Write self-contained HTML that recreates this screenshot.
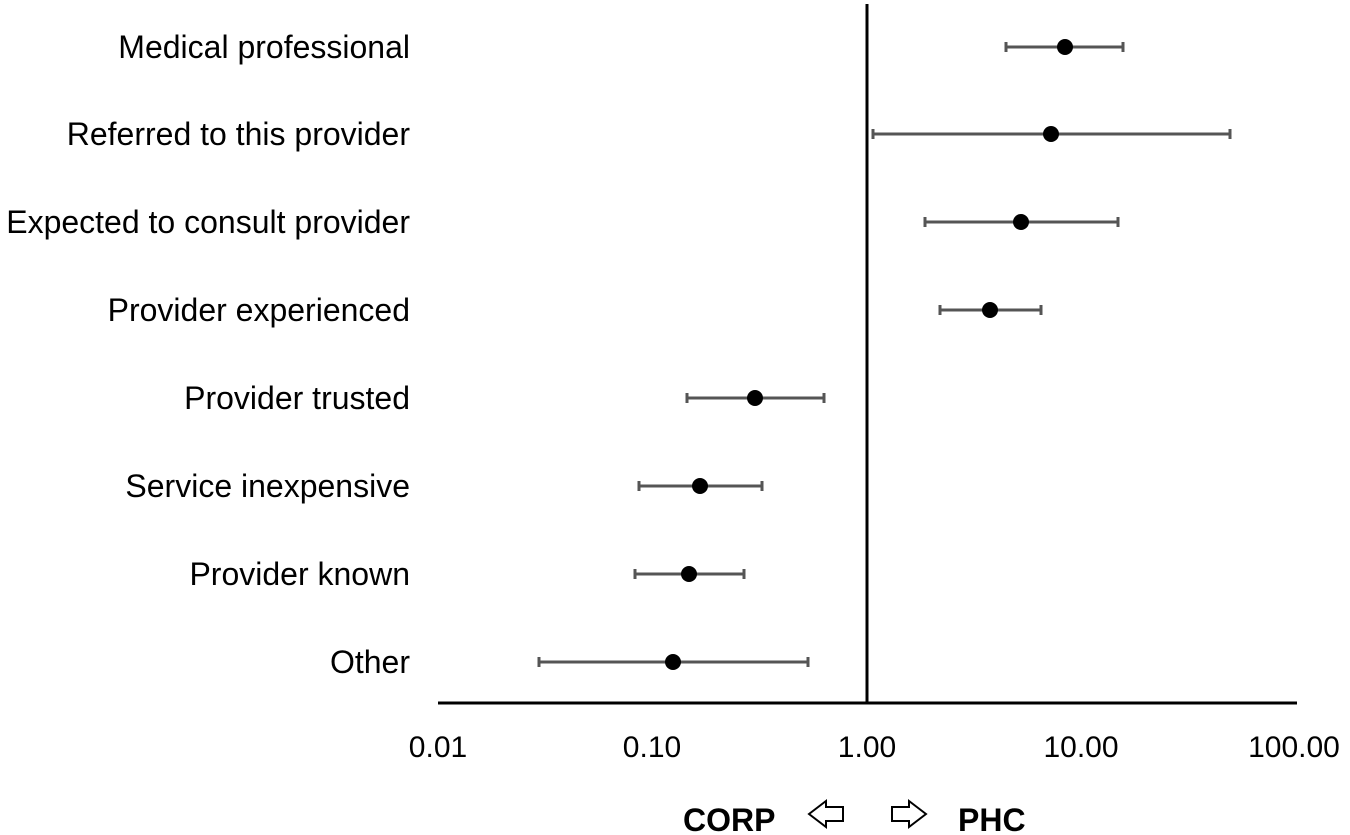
<!DOCTYPE html>
<html><head><style>body{margin:0;background:#fff}svg{display:block}</style></head><body>
<svg width="1350" height="835" viewBox="0 0 1350 835" xmlns="http://www.w3.org/2000/svg" font-family="Liberation Sans, Arial, sans-serif">
<g font-size="32" fill="#000" text-anchor="end">
<text x="410" y="58">Medical professional</text>
<text x="410" y="145">Referred to this provider</text>
<text x="410" y="233">Expected to consult provider</text>
<text x="410" y="321">Provider experienced</text>
<text x="410" y="409">Provider trusted</text>
<text x="410" y="497">Service inexpensive</text>
<text x="410" y="585">Provider known</text>
<text x="410" y="673">Other</text>
</g>
<line x1="867" y1="4" x2="867" y2="704" stroke="#000" stroke-width="3"/>
<line x1="438" y1="703" x2="1297" y2="703" stroke="#000" stroke-width="3"/>
<g font-size="30" text-anchor="middle">
<text x="438" y="757">0.01</text>
<text x="652" y="757">0.10</text>
<text x="867" y="757">1.00</text>
<text x="1081" y="757">10.00</text>
<text x="1294" y="757">100.00</text>
</g>
<g stroke="#555" stroke-width="3">
<line x1="1006" y1="47" x2="1123" y2="47"/><line x1="1006" y1="42" x2="1006" y2="52"/><line x1="1123" y1="42" x2="1123" y2="52"/>
<line x1="873" y1="134" x2="1230" y2="134"/><line x1="873" y1="129" x2="873" y2="139"/><line x1="1230" y1="129" x2="1230" y2="139"/>
<line x1="925" y1="222" x2="1118" y2="222"/><line x1="925" y1="217" x2="925" y2="227"/><line x1="1118" y1="217" x2="1118" y2="227"/>
<line x1="940" y1="310" x2="1041" y2="310"/><line x1="940" y1="305" x2="940" y2="315"/><line x1="1041" y1="305" x2="1041" y2="315"/>
<line x1="687" y1="398" x2="824" y2="398"/><line x1="687" y1="393" x2="687" y2="403"/><line x1="824" y1="393" x2="824" y2="403"/>
<line x1="639" y1="486" x2="762" y2="486"/><line x1="639" y1="481" x2="639" y2="491"/><line x1="762" y1="481" x2="762" y2="491"/>
<line x1="635" y1="574" x2="744" y2="574"/><line x1="635" y1="569" x2="635" y2="579"/><line x1="744" y1="569" x2="744" y2="579"/>
<line x1="539" y1="662" x2="808" y2="662"/><line x1="539" y1="657" x2="539" y2="667"/><line x1="808" y1="657" x2="808" y2="667"/>
</g>
<g fill="#000">
<circle cx="1065" cy="47" r="8"/><circle cx="1051" cy="134" r="8"/><circle cx="1021" cy="222" r="8"/><circle cx="990" cy="310" r="8"/>
<circle cx="755" cy="398" r="8"/><circle cx="700" cy="486" r="8"/><circle cx="689" cy="574" r="8"/><circle cx="673" cy="662" r="8"/>
</g>
<g font-size="32" font-weight="bold">
<text x="683" y="831">CORP</text>
<text x="958" y="831">PHC</text>
</g>
<g fill="#fff" stroke="#000" stroke-width="2">
<polygon points="809,814 826,801 826,807 843,807 843,821 826,821 826,827"/>
<polygon points="926,814 909,801 909,807 892,807 892,821 909,821 909,827"/>
</g>
</svg>
</body></html>
